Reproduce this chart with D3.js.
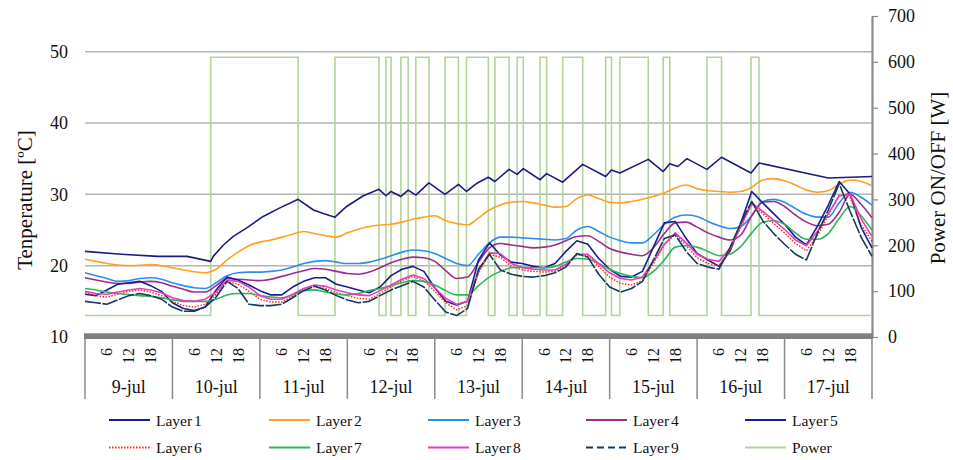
<!DOCTYPE html>
<html>
<head>
<meta charset="utf-8">
<script src="https://cdn.jsdelivr.net/npm/d3@7"></script>
<style>
  html, body { margin: 0; padding: 0; background: #fff; }
  svg { display: block; }
  text { font-family: "Liberation Serif", "Times New Roman", serif; fill: #111; }
</style>
</head>
<body>
<svg id="chart" width="953" height="460"></svg>
<script>
// Time axis: hours since 9-jul 00:00, sampled every 3 hours over nine days
const sampleHours = d3.range(0, 217, 3);
const dayLabels = ["9-jul", "10-jul", "11-jul", "12-jul", "13-jul", "14-jul", "15-jul", "16-jul", "17-jul"];
const hourLabels = [6, 12, 18];
const tempTicks = [10, 20, 30, 40, 50];
const powerTicks = [0, 100, 200, 300, 400, 500, 600, 700];

// Layer 1 (top) follows the heater switching, stored as breakpoints
const layer1Hours = [0,10,20,28,34.5,35.2,38.0,40.7,44.4,48.9,53.5,58.5,62.7,65.4,68.6,71.8,76.4,80.7,82.6,84.0,86.7,88.7,90.8,94.4,98.8,102.5,104.7,107.7,110.7,112.5,116.4,118.6,120.3,124.9,126.7,131.1,136.6,142.9,144.5,146.8,154.6,158.7,160.5,162.7,165.2,170.7,174.7,182.8,185.0,204,216];
const layer1 = [22.0,21.6,21.3,21.3,20.6,21.3,22.9,24.1,25.3,26.9,28.1,29.3,27.8,27.3,26.8,28.3,29.8,30.7,29.8,30.4,29.7,30.6,29.9,31.6,30.0,31.4,30.4,31.6,32.4,31.8,33.5,32.8,33.6,32.05,32.9,31.7,34.2,32.5,33.4,33.0,34.9,33.2,34.3,33.9,35.0,33.5,35.2,33.0,34.4,32.3,32.5];

const layer2 = [20.9,20.6,20.3,20.1,20.0,20.05,20.15,20.0,19.7,19.4,19.15,19.0,
  19.5,20.8,21.9,22.8,23.3,23.6,24.0,24.4,24.8,24.5,24.2,24.0,
  24.6,25.1,25.5,25.7,25.8,26.1,26.5,26.8,27.0,26.3,25.9,25.7,
  26.7,27.8,28.5,28.9,29.0,28.8,28.5,28.2,28.3,29.4,29.9,29.4,
  28.9,28.8,29.0,29.3,29.7,30.2,30.9,31.3,30.8,30.5,30.4,30.3,
  30.4,31.0,32.0,32.2,31.9,31.3,30.6,30.3,30.5,31.4,32.0,31.8,
  31.2];
const layer3 = [19.0,18.6,18.2,17.8,17.9,18.2,18.3,18.1,17.6,17.2,16.9,16.8,
  17.6,18.6,19.0,19.1,19.1,19.2,19.4,19.8,20.3,20.6,20.7,20.5,
  20.3,20.3,20.5,20.9,21.4,21.9,22.2,22.1,21.7,21.0,20.3,20.0,
  21.6,23.2,24.0,24.0,23.9,23.8,23.7,23.6,23.8,25.0,25.5,24.8,
  24.0,23.5,23.2,23.2,24.3,25.8,26.8,27.1,26.9,26.2,25.6,25.2,
  25.5,27.0,29.0,29.3,28.9,28.0,27.2,26.8,26.8,28.8,30.3,29.6,
  28.5];
const layer4 = [18.3,18.0,17.7,17.5,17.5,17.7,17.8,17.6,17.1,16.7,16.3,16.3,
  17.2,18.2,18.1,18.0,17.9,18.1,18.5,18.9,19.3,19.6,19.5,19.2,
  18.9,18.8,19.1,19.7,20.4,20.9,21.2,21.1,20.6,19.3,18.2,18.4,
  20.5,22.5,23.1,22.9,22.7,22.5,22.6,22.9,23.5,24.1,24.2,23.4,
  22.4,21.9,21.6,21.4,22.5,24.5,26.0,26.1,25.4,24.6,24.0,23.6,
  24.3,27.0,28.9,29.0,28.3,27.1,26.1,25.6,25.8,27.5,30.0,28.6,
  26.7];
const layer5 = [16.0,15.8,16.6,17.4,17.6,17.8,17.2,16.4,14.8,14.0,13.7,14.2,
  16.6,18.4,18.0,17.3,16.5,15.9,15.9,17.0,17.8,18.3,18.3,17.4,
  17.0,16.6,16.2,17.0,18.6,19.5,19.9,19.2,16.9,15.0,14.5,15.0,
  20.8,23.2,21.5,20.5,20.3,19.9,19.7,20.3,22.0,23.5,23.0,21.0,
  19.5,18.5,18.4,19.2,22.6,26.0,26.2,23.8,21.7,20.8,19.9,22.0,
  26.0,30.4,28.8,27.3,25.8,24.0,22.9,25.5,28.5,31.8,30.0,25.4,
  22.5];
const layer6 = [16.2,15.8,15.6,16.0,16.4,16.6,16.3,15.8,15.0,14.4,14.2,14.6,
  16.0,17.8,17.4,16.4,15.3,14.9,14.9,15.7,16.6,17.1,16.8,16.2,
  15.8,15.4,15.3,16.1,17.0,17.9,18.5,17.9,16.4,14.8,13.8,14.4,
  19.0,21.6,21.2,19.9,19.4,19.2,19.1,19.2,20.0,21.5,21.4,19.9,
  18.4,17.5,17.3,17.9,20.3,22.9,24.4,22.8,21.1,20.3,20.0,22.1,
  25.4,28.6,27.3,25.9,24.6,23.1,22.1,24.2,27.0,29.9,29.5,25.8,
  23.4];
const layer7 = [16.8,16.6,16.3,16.1,15.95,15.8,15.7,15.5,15.2,15.0,15.0,15.0,
  15.3,15.9,16.1,16.1,15.8,15.6,15.5,15.9,16.5,16.6,16.3,16.0,
  15.9,16.1,16.5,16.8,17.2,17.6,17.9,17.8,17.3,16.5,15.9,15.9,
  17.2,18.4,19.2,19.7,19.8,19.7,19.7,19.9,20.5,21.0,20.9,20.3,
  19.5,18.9,18.5,18.3,19.2,20.8,22.6,22.8,22.6,22.0,21.4,21.6,
  22.7,24.6,26.1,26.3,25.8,24.6,23.7,23.7,24.5,26.6,28.3,27.0,
  25.0];
const layer8 = [16.4,16.1,16.0,16.3,16.6,16.8,16.6,16.2,15.5,15.1,15.0,15.3,
  16.3,18.0,17.8,17.0,15.8,15.3,15.3,16.0,16.8,17.3,17.1,16.6,
  16.2,15.9,15.8,16.5,17.3,18.1,18.7,18.2,16.9,15.4,14.6,15.0,
  19.2,21.8,21.7,20.3,19.7,19.5,19.4,19.4,20.2,21.6,21.6,20.3,
  19.0,18.2,18.0,18.4,20.6,23.0,24.6,23.2,21.6,20.9,20.6,22.4,
  25.6,28.8,27.6,26.4,25.1,23.6,22.8,24.8,27.3,29.8,30.0,26.6,
  24.1];
const layer9 = [15.0,14.8,14.6,15.2,15.8,16.1,15.8,15.3,14.2,13.6,13.6,14.2,
  15.6,17.8,16.8,14.6,14.4,14.4,14.6,15.5,16.5,17.1,16.6,15.8,
  15.2,14.8,15.0,15.8,16.6,17.2,17.8,17.0,15.2,13.5,13.0,14.0,
  19.5,21.6,19.4,18.8,18.5,18.4,18.6,19.0,19.8,21.7,21.2,18.8,
  17.0,16.3,16.8,17.8,20.8,23.8,24.3,22.0,20.3,19.8,19.5,22.5,
  26.0,29.0,26.3,24.5,23.0,21.6,20.8,24.5,27.8,31.5,27.6,24.0,
  21.3];

// Heater power: ON periods (start hour, end hour), ON and OFF levels in W
const powerOnPeriods = [[34.5,58.5],[68.6,80.7],[82.6,84.0],[86.7,88.7],[90.8,94.4],[98.8,102.5],[104.7,110.7],[112.5,116.4],[118.6,120.3],[124.9,126.7],[131.1,136.6],[142.9,144.5],[146.8,154.6],[158.7,160.5],[170.7,174.7],[182.8,185.0]];
const powerOn = 610;
const powerOff = 47;

const W = 953, H = 460;
const plot = { left: 85, right: 872, top: 16, bottom: 337 };

const svg = d3.select("#chart");
const x = d3.scaleLinear().domain([0, 216]).range([plot.left, plot.right]);
const yT = d3.scaleLinear().domain([10, 55]).range([plot.bottom, plot.top]);
const yP = d3.scaleLinear().domain([0, 700]).range([plot.bottom, plot.top]);

// Horizontal gridlines
svg.append("g").selectAll("line")
  .data(tempTicks.filter(t => t > 10))
  .join("line")
  .attr("x1", plot.left).attr("x2", plot.right)
  .attr("y1", d => yT(d)).attr("y2", d => yT(d))
  .attr("stroke", "#b4b4b4").attr("stroke-width", 1.5);

// Left temperature axis (labels only)
const leftAxis = svg.append("g")
  .attr("transform", `translate(${plot.left},0)`)
  .call(d3.axisLeft(yT).tickValues(tempTicks).tickSize(0).tickPadding(17));
leftAxis.select(".domain").remove();
leftAxis.selectAll("text").attr("font-size", 18).attr("font-family", "Liberation Serif").attr("fill", "#111");

// Right power axis
const rightAxis = svg.append("g")
  .attr("transform", `translate(${plot.right},0)`)
  .call(d3.axisRight(yP).tickValues(powerTicks).tickSize(6).tickSizeOuter(0).tickPadding(10));
rightAxis.select(".domain").attr("stroke", "#8a8a8a").attr("stroke-width", 2.2);
rightAxis.selectAll(".tick line").attr("stroke", "#8a8a8a").attr("stroke-width", 1.2);
rightAxis.selectAll("text").attr("font-size", 18).attr("font-family", "Liberation Serif").attr("fill", "#111");

// Power series as a step line
const powerPts = [[0, powerOff]];
powerOnPeriods.forEach(([s, e]) => { powerPts.push([s, powerOn]); powerPts.push([e, powerOff]); });
powerPts.push([216, powerOff]);
svg.append("path")
  .datum(powerPts)
  .attr("fill", "none")
  .attr("stroke", "#b2d49a")
  .attr("stroke-width", 1.6)
  .attr("d", d3.line().x(d => x(d[0])).y(d => yP(d[1])).curve(d3.curveStepAfter));

// Temperature layers
const layers = [
  { name: "Layer 1", hours: layer1Hours, values: layer1, color: "#1c1c80", dash: null, curve: d3.curveLinear, w: 1.6 },
  { name: "Layer 2", hours: sampleHours, values: layer2, color: "#ffa020", dash: null, curve: d3.curveMonotoneX, w: 1.6 },
  { name: "Layer 3", hours: sampleHours, values: layer3, color: "#2d8cf0", dash: null, curve: d3.curveMonotoneX, w: 1.6 },
  { name: "Layer 4", hours: sampleHours, values: layer4, color: "#9c2c8e", dash: null, curve: d3.curveMonotoneX, w: 1.6 },
  { name: "Layer 5", hours: sampleHours, values: layer5, color: "#14208c", dash: null, curve: d3.curveLinear, w: 1.6 },
  { name: "Layer 6", hours: sampleHours, values: layer6, color: "#ff2020", dash: "1.5,1.5", curve: d3.curveLinear, w: 1.4 },
  { name: "Layer 7", hours: sampleHours, values: layer7, color: "#2cb55a", dash: null, curve: d3.curveMonotoneX, w: 1.6 },
  { name: "Layer 8", hours: sampleHours, values: layer8, color: "#e83cc0", dash: null, curve: d3.curveLinear, w: 1.6 },
  { name: "Layer 9", hours: sampleHours, values: layer9, color: "#123c5c", dash: "16,1.5", curve: d3.curveLinear, w: 1.6 }
];

layers.forEach(L => {
  const pts = L.hours.map((h, i) => [h, L.values[i]]);
  svg.append("path")
    .datum(pts)
    .attr("fill", "none")
    .attr("stroke", L.color)
    .attr("stroke-width", L.w)
    .attr("stroke-dasharray", L.dash)
    .attr("stroke-linejoin", "round")
    .attr("d", d3.line().x(d => x(d[0])).y(d => yT(d[1])).curve(L.curve));
});

// Category axis: thick band, day separators, hour and date labels
svg.append("rect")
  .attr("x", plot.left - 1).attr("y", 333.3)
  .attr("width", plot.right - plot.left + 2).attr("height", 5.7)
  .attr("fill", "#808080");

const dayIdx = d3.range(dayLabels.length + 1);
svg.append("g").selectAll("line")
  .data(dayIdx)
  .join("line")
  .attr("x1", d => x(d * 24)).attr("x2", d => x(d * 24))
  .attr("y1", 339).attr("y2", 399)
  .attr("stroke", "#8a8a8a").attr("stroke-width", 1.5);

const hourG = svg.append("g");
dayLabels.forEach((lab, i) => {
  hourLabels.forEach(h => {
    hourG.append("text")
      .attr("transform", `translate(${x(i * 24 + h)},348) rotate(-90)`)
      .attr("text-anchor", "end")
      .attr("dominant-baseline", "central")
      .attr("font-size", 16)
      .text(h);
  });
  svg.append("text")
    .attr("x", x(i * 24 + 12)).attr("y", 393)
    .attr("text-anchor", "middle")
    .attr("font-size", 18)
    .text(lab);
});

// Axis titles
svg.append("text")
  .attr("transform", "translate(25,200) rotate(-90)")
  .attr("text-anchor", "middle").attr("dominant-baseline", "central")
  .attr("font-size", 21)
  .text("Tenperature [ºC]");
svg.append("text")
  .attr("transform", "translate(938,178) rotate(-90)")
  .attr("text-anchor", "middle").attr("dominant-baseline", "central")
  .attr("font-size", 21)
  .text("Power ON/OFF [W]");

// Legend: two rows of five entries
const legendItems = layers.map(L => ({ name: L.name, color: L.color, dash: L.dash }))
  .concat([{ name: "Power", color: "#b2d49a", dash: null }]);
const colX = [109, 269, 428, 586, 745];
const rowY = [420, 447.5];
legendItems.forEach((it, i) => {
  const cx = colX[i % 5], cy = rowY[Math.floor(i / 5)];
  svg.append("line")
    .attr("x1", cx).attr("x2", cx + 41)
    .attr("y1", cy).attr("y2", cy)
    .attr("stroke", it.color).attr("stroke-width", 2)
    .attr("stroke-dasharray", it.name === "Layer 9" ? "7,4" : it.dash);
  svg.append("text")
    .attr("x", cx + 47).attr("y", cy)
    .attr("dominant-baseline", "central")
    .attr("font-size", 15.5)
    .attr("word-spacing", -2)
    .text(it.name);
});
</script>
</body>
</html>
